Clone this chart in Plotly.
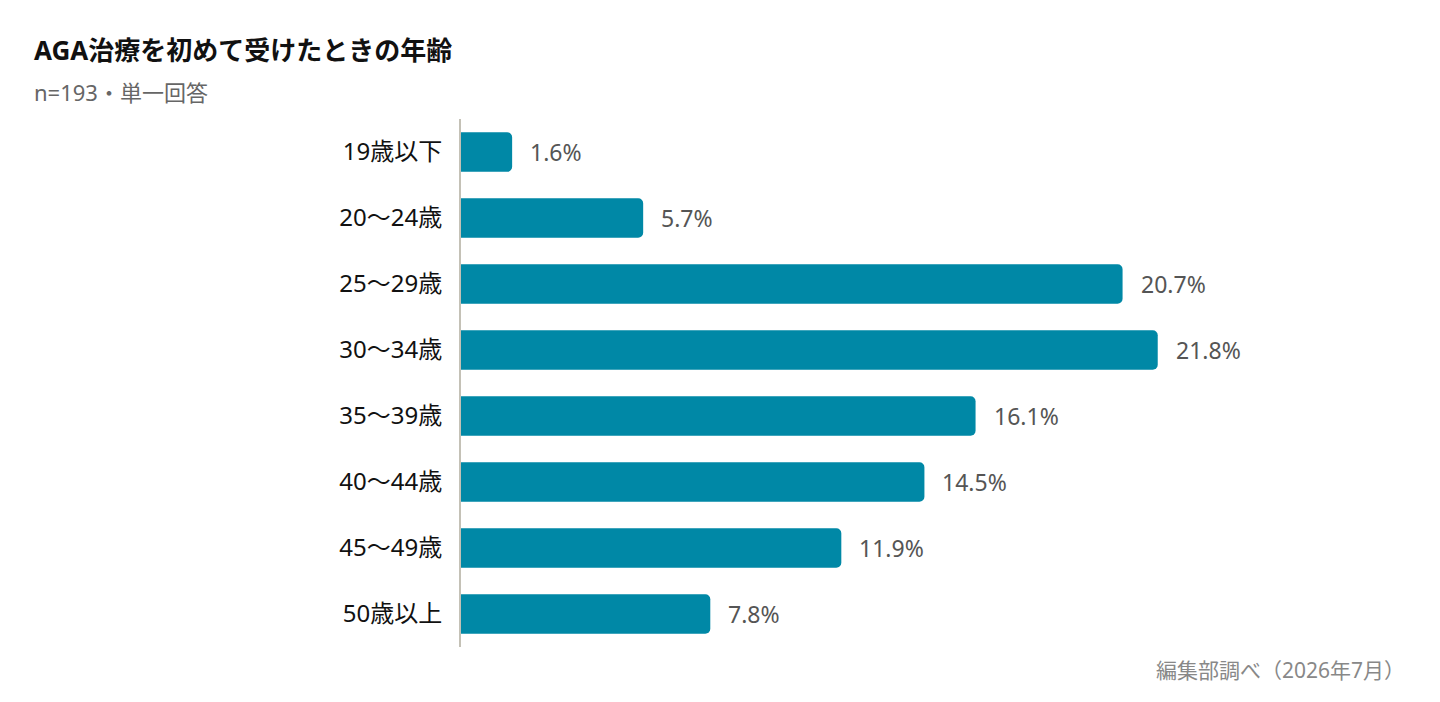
import plotly.graph_objects as go

# data
age_groups = ['19歳以下', '20～24歳', '25～29歳', '30～34歳',
              '35～39歳', '40～44歳', '45～49歳', '50歳以上']
share_pct = [1.6, 5.7, 20.7, 21.8, 16.1, 14.5, 11.9, 7.8]

FONT = 'Noto Sans, Noto Sans CJK JP, sans-serif'
BAR_COLOR = '#0088a6'

fig = go.Figure()
fig.add_trace(go.Bar(
    x=share_pct,
    y=age_groups,
    orientation='h',
    marker=dict(color=BAR_COLOR, cornerradius=5, line=dict(width=0)),
    hoverinfo='skip',
))

# value labels to the right of each bar
for grp, val in zip(age_groups, share_pct):
    fig.add_annotation(x=val, y=grp, text=f'{val}%', showarrow=False,
                       xanchor='left', xshift=16,
                       font=dict(family=FONT, size=23, color='#555555'))

fig.update_layout(
    width=1440, height=702,
    margin=dict(l=453, r=188, t=111, b=63),
    paper_bgcolor='white', plot_bgcolor='white',
    bargap=0.4,
    showlegend=False,
    font=dict(family=FONT),
    xaxis=dict(range=[0, 25], visible=False, fixedrange=True),
    yaxis=dict(autorange='reversed', showline=True, linecolor='#c4c1b6',
               linewidth=2, ticks='', ticklabelstandoff=12,
               tickfont=dict(family=FONT, size=24, color='#111111'),
               showgrid=False, fixedrange=True),
)

fig.add_annotation(text='<b>AGA治療を初めて受けたときの年齢</b>', xref='paper', yref='paper',
                   x=0, y=1, xanchor='left', yanchor='middle', showarrow=False,
                   xshift=-429, yshift=69,
                   font=dict(family=FONT, size=26, color='#111111'))
fig.add_annotation(text='n=193・単一回答', xref='paper', yref='paper',
                   x=0, y=1, xanchor='left', yanchor='middle', showarrow=False,
                   xshift=-429, yshift=27,
                   font=dict(family=FONT, size=22, color='#666666'))
fig.add_annotation(text='編集部調べ（2026年7月）', xref='paper', yref='paper',
                   x=1, y=0, xanchor='right', yanchor='middle', showarrow=False,
                   xshift=147, yshift=-23,
                   font=dict(family=FONT, size=21, color='#888888'))

fig.write_html('out.html')
